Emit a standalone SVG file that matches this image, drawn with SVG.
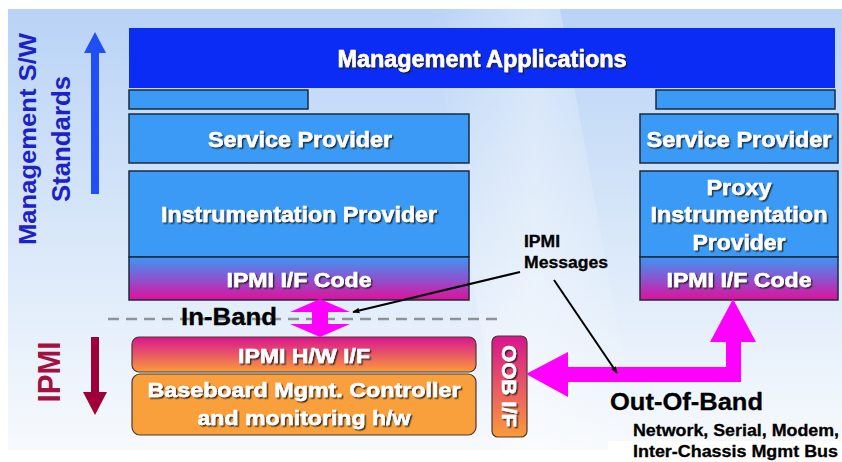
<svg xmlns="http://www.w3.org/2000/svg" width="842" height="462" viewBox="0 0 842 462">
  <defs>
    <linearGradient id="bg" x1="0" y1="0" x2="0" y2="1">
      <stop offset="0" stop-color="#b9d3f6"/>
      <stop offset="0.5" stop-color="#d8e7f9"/>
      <stop offset="1" stop-color="#f7fafd"/>
    </linearGradient>
    <linearGradient id="streak" x1="0" y1="0" x2="1" y2="0">
      <stop offset="0" stop-color="#ffffff" stop-opacity="0"/>
      <stop offset="0.5" stop-color="#ffffff" stop-opacity="0.35"/>
      <stop offset="1" stop-color="#ffffff" stop-opacity="0"/>
    </linearGradient>
    <linearGradient id="blueMagenta" x1="0" y1="0" x2="0" y2="1">
      <stop offset="0" stop-color="#3d96f2"/>
      <stop offset="0.5" stop-color="#8a55d0"/>
      <stop offset="1" stop-color="#e0109a"/>
    </linearGradient>
    <linearGradient id="magentaOrange" x1="0" y1="0" x2="0" y2="1">
      <stop offset="0" stop-color="#d8148f"/>
      <stop offset="1" stop-color="#f99c3a"/>
    </linearGradient>
    <filter id="shadow" x="-10%" y="-30%" width="120%" height="160%">
      <feDropShadow dx="1.5" dy="1.5" stdDeviation="0.6" flood-color="#1a1a1a" flood-opacity="0.85"/>
    </filter>
    <marker id="tip" viewBox="0 0 10 10" refX="9" refY="5" markerWidth="7" markerHeight="7" orient="auto-start-reverse" markerUnits="userSpaceOnUse">
      <path d="M0,1 L10,5 L0,9 Z" fill="#000"/>
    </marker>
    <style>
      .box { fill: #3a9af5; stroke: #1c2a3c; stroke-width: 1.5; }
      .grad1 { fill: url(#blueMagenta); stroke: #1c2a3c; stroke-width: 1.5; }
      .grad2 { fill: url(#magentaOrange); stroke: #4a3a30; stroke-width: 1.2; }
      .orange { fill: #f9a03c; stroke: #4a3a30; stroke-width: 1.2; }
      .lbl { font-family: "Liberation Sans", Arial, sans-serif; font-weight: bold; fill: #ffffff; stroke: #ffffff; stroke-width: 0.5; text-anchor: middle; }
      .dark { font-family: "Liberation Sans", Arial, sans-serif; font-weight: bold; fill: #000000; stroke: #000000; stroke-width: 0.3; }
      .side { font-family: "Liberation Sans", Arial, sans-serif; font-weight: bold; text-anchor: middle; }
      .pointer { stroke: #000; stroke-width: 2; fill: none; marker-end: url(#tip); }
      .flow { fill: #ff00ff; }
    </style>
  </defs>

  <!-- backdrop panel -->
  <rect x="0" y="0" width="842" height="462" fill="#ffffff"/>
  <rect x="8" y="9" width="834" height="441" fill="url(#bg)"/>
  <polygon points="430,9 560,9 640,450 500,450" fill="url(#streak)"/>
  <rect x="608" y="441" width="234" height="21" fill="#ffffff"/>

  <!-- side annotations -->
  <g id="sw-standards">
    <text class="side" transform="translate(36,139) rotate(-90)" font-size="24" fill="#1c22c8" textLength="212" lengthAdjust="spacingAndGlyphs">Management S/W</text>
    <text class="side" transform="translate(70,139) rotate(-90)" font-size="25" fill="#1c22c8" textLength="126" lengthAdjust="spacingAndGlyphs">Standards</text>
    <polygon points="91,194 99,194 99,53 106,53 95,32 84,53 91,53" fill="#1f4ff5"/>
  </g>
  <g id="ipmi-side">
    <text class="side" transform="translate(60,372) rotate(-90)" font-size="31" fill="#a3123f" textLength="61" lengthAdjust="spacingAndGlyphs">IPMI</text>
    <polygon points="91,337 99,337 99,392 107,392 95,415 83,392 91,392" fill="#a0003a"/>
  </g>

  <!-- upper software stack -->
  <g id="mgmt-apps">
    <rect x="129" y="28" width="706" height="60" fill="#0a2cf4"/>
    <text class="lbl" x="482" y="67" font-size="23" textLength="289" lengthAdjust="spacingAndGlyphs" filter="url(#shadow)">Management Applications</text>
  </g>
  <g id="api-left">
    <rect class="box" x="129" y="90" width="179" height="19"/>
  </g>
  <g id="api-right">
    <rect class="box" x="656" y="90" width="179" height="19"/>
  </g>
  <g id="service-left">
    <rect class="box" x="129" y="114" width="340" height="49"/>
    <text class="lbl" x="300" y="147" font-size="22" textLength="184" lengthAdjust="spacingAndGlyphs" filter="url(#shadow)">Service Provider</text>
  </g>
  <g id="service-right">
    <rect class="box" x="640" y="114" width="198" height="49"/>
    <text class="lbl" x="739" y="147" font-size="22" textLength="185" lengthAdjust="spacingAndGlyphs" filter="url(#shadow)">Service Provider</text>
  </g>
  <g id="instrumentation">
    <rect class="box" x="129" y="171" width="340" height="86"/>
    <text class="lbl" x="299" y="222" font-size="22" textLength="276" lengthAdjust="spacingAndGlyphs" filter="url(#shadow)">Instrumentation Provider</text>
  </g>
  <g id="ipmi-code-left">
    <rect class="grad1" x="129" y="257" width="340" height="43"/>
    <text class="lbl" x="299" y="287" font-size="21" textLength="145" lengthAdjust="spacingAndGlyphs" filter="url(#shadow)">IPMI I/F Code</text>
  </g>
  <g id="proxy-instrumentation">
    <rect class="box" x="640" y="171" width="198" height="86"/>
    <text class="lbl" x="739" y="195" font-size="22" textLength="65" lengthAdjust="spacingAndGlyphs" filter="url(#shadow)">Proxy</text>
    <text class="lbl" x="739" y="222" font-size="22" textLength="177" lengthAdjust="spacingAndGlyphs" filter="url(#shadow)">Instrumentation</text>
    <text class="lbl" x="739" y="250" font-size="22" textLength="93" lengthAdjust="spacingAndGlyphs" filter="url(#shadow)">Provider</text>
  </g>
  <g id="ipmi-code-right">
    <rect class="grad1" x="640" y="257" width="198" height="43"/>
    <text class="lbl" x="739" y="287" font-size="21" textLength="145" lengthAdjust="spacingAndGlyphs" filter="url(#shadow)">IPMI I/F Code</text>
  </g>

  <!-- in-band boundary -->
  <g id="in-band">
    <line x1="108" y1="319" x2="500" y2="319" stroke="#8f9399" stroke-width="2.5" stroke-dasharray="11 7"/>
    <text class="dark" x="181" y="325" font-size="24" textLength="96" lengthAdjust="spacingAndGlyphs">In-Band</text>
  </g>

  <!-- hardware layer -->
  <g id="ipmi-hw">
    <rect class="grad2" x="132" y="337" width="344" height="35" rx="7"/>
    <text class="lbl" x="304" y="363" font-size="20" textLength="132" lengthAdjust="spacingAndGlyphs" filter="url(#shadow)">IPMI H/W I/F</text>
  </g>
  <g id="bmc">
    <rect class="orange" x="132" y="374" width="344" height="61" rx="8"/>
    <text class="lbl" x="304" y="397" font-size="21" textLength="313" lengthAdjust="spacingAndGlyphs" filter="url(#shadow)">Baseboard Mgmt. Controller</text>
    <text class="lbl" x="304" y="425" font-size="21" textLength="213" lengthAdjust="spacingAndGlyphs" filter="url(#shadow)">and monitoring h/w</text>
  </g>
  <g id="oob-if">
    <rect class="grad2" x="492" y="336" width="35" height="101" rx="6"/>
    <g filter="url(#shadow)">
      <text class="lbl" transform="translate(502,386) rotate(90)" font-size="20" textLength="82" lengthAdjust="spacingAndGlyphs">OOB I/F</text>
    </g>
  </g>

  <!-- message paths -->
  <g id="connectors">
    <polygon class="flow" points="320,299 350,312 328,312 328,324 350,324 320,337 290,324 312,324 312,312 290,312"/>
    <polygon class="flow" points="526,374 568,352 568,367 726,367 726,342 710,342 733,299 756,342 741,342 741,382 568,382 568,397"/>
    <line class="pointer" x1="520" y1="272" x2="353" y2="312"/>
    <line class="pointer" x1="554" y1="280" x2="617" y2="373"/>
  </g>

  <g id="ipmi-messages">
    <text class="dark" x="524" y="247" font-size="16" textLength="36" lengthAdjust="spacingAndGlyphs">IPMI</text>
    <text class="dark" x="524" y="268" font-size="16" textLength="84" lengthAdjust="spacingAndGlyphs">Messages</text>
  </g>
  <g id="out-of-band">
    <text class="dark" x="610" y="410" font-size="24" textLength="153" lengthAdjust="spacingAndGlyphs">Out-Of-Band</text>
    <text class="dark" x="633" y="436" font-size="16" textLength="206" lengthAdjust="spacingAndGlyphs">Network, Serial, Modem,</text>
    <text class="dark" x="633" y="457" font-size="16" textLength="205" lengthAdjust="spacingAndGlyphs">Inter-Chassis Mgmt Bus</text>
  </g>
</svg>
